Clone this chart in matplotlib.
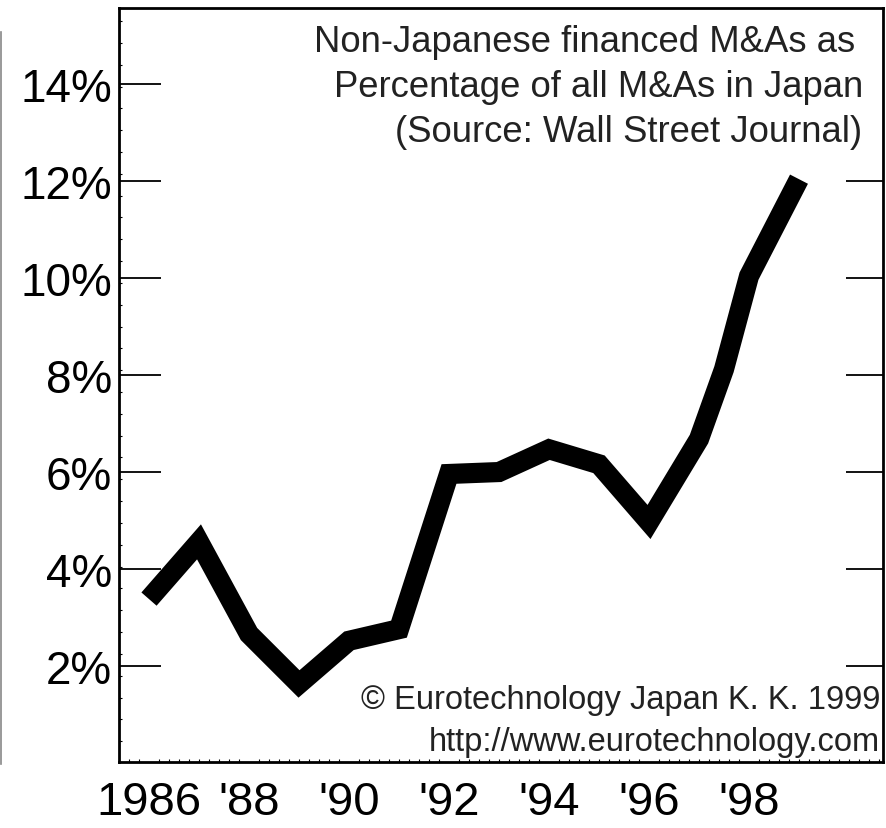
import matplotlib
matplotlib.use("Agg")
import matplotlib.pyplot as plt
from matplotlib.lines import Line2D
from matplotlib.ticker import MultipleLocator

plt.rcParams['font.family'] = ['Liberation Sans', 'DejaVu Sans']

years = [1986, 1987, 1988, 1989, 1990, 1991, 1992, 1993, 1994, 1995, 1996, 1997, 1997.5, 1998, 1999]
share = [3.38, 4.56, 2.66, 1.63, 2.52, 2.76, 5.96, 6.0, 6.47, 6.16, 4.97, 6.68, 8.12, 10.04, 12.04]

x_ticks = [1986, 1988, 1990, 1992, 1994, 1996, 1998]
x_labels = ["1986", "'88", "'90", "'92", "'94", "'96", "'98"]
y_ticks = [2, 4, 6, 8, 10, 12, 14]
y_labels = ["2%", "4%", "6%", "8%", "10%", "12%", "14%"]
right_ticks = [2, 4, 6, 8, 10, 12]

title_lines = ["Non-Japanese financed M&As as",
               "Percentage of all M&As in Japan",
               "(Source: Wall Street Journal)"]
title_right = [855, 863, 862]
credit_lines = ["\u00a9 Eurotechnology Japan K. K. 1999",
                "http://www.eurotechnology.com"]

fig = plt.figure(figsize=(8.87, 8.29), dpi=100)
ax = fig.add_axes([119 / 887, 1 - 763 / 829, (883 - 119) / 887, (763 - 9) / 829])

ax.plot(years, share, color="black", lw=14.5,
        solid_joinstyle="miter", solid_capstyle="butt")

ax.set_xlim(1985.4, 2000.68)
ax.set_ylim(0.02, 15.57)

ax.set_xticks(x_ticks)
ax.set_xticklabels(x_labels, fontsize=34)
ax.set_yticks(y_ticks)
ax.set_yticklabels(y_labels, fontsize=33)
ax.xaxis.set_minor_locator(MultipleLocator(0.2))
ax.yaxis.set_minor_locator(MultipleLocator(0.45))

ax.tick_params(axis="x", which="major", length=0, pad=13)
ax.tick_params(axis="x", which="minor", direction="in", length=2, width=0.8)
ax.tick_params(axis="y", which="major", direction="in", length=30, width=1.3, pad=5)
ax.tick_params(axis="y", which="minor", direction="in", length=2, width=0.8)

for s in ax.spines.values():
    s.set_linewidth(2)

# right side ticks (no 14%)
ax2 = ax.twinx()
ax2.set_ylim(ax.get_ylim())
ax2.set_yticks(right_ticks)
ax2.tick_params(axis="y", direction="in", length=27, width=1.3, labelright=False)
for s in ax2.spines.values():
    s.set_visible(False)

for i, line in enumerate(title_lines):
    fig.text(title_right[i] / 887, 1 - (43 + i * 44.5) / 829, line,
             ha="right", va="center", fontsize=26.3, color="#222222")

for i, line in enumerate(credit_lines):
    fig.text(880 / 887, 1 - (701 + i * 42) / 829, line,
             ha="right", va="center", fontsize=23.5, color="#222222")

# thin grey border line at far left of the picture
fig.add_artist(Line2D([1.5 / 887, 1.5 / 887], [1 - 33 / 829, 1 - 765 / 829],
                      color="#888888", lw=1.2))

fig.savefig("out.png", dpi=100)
